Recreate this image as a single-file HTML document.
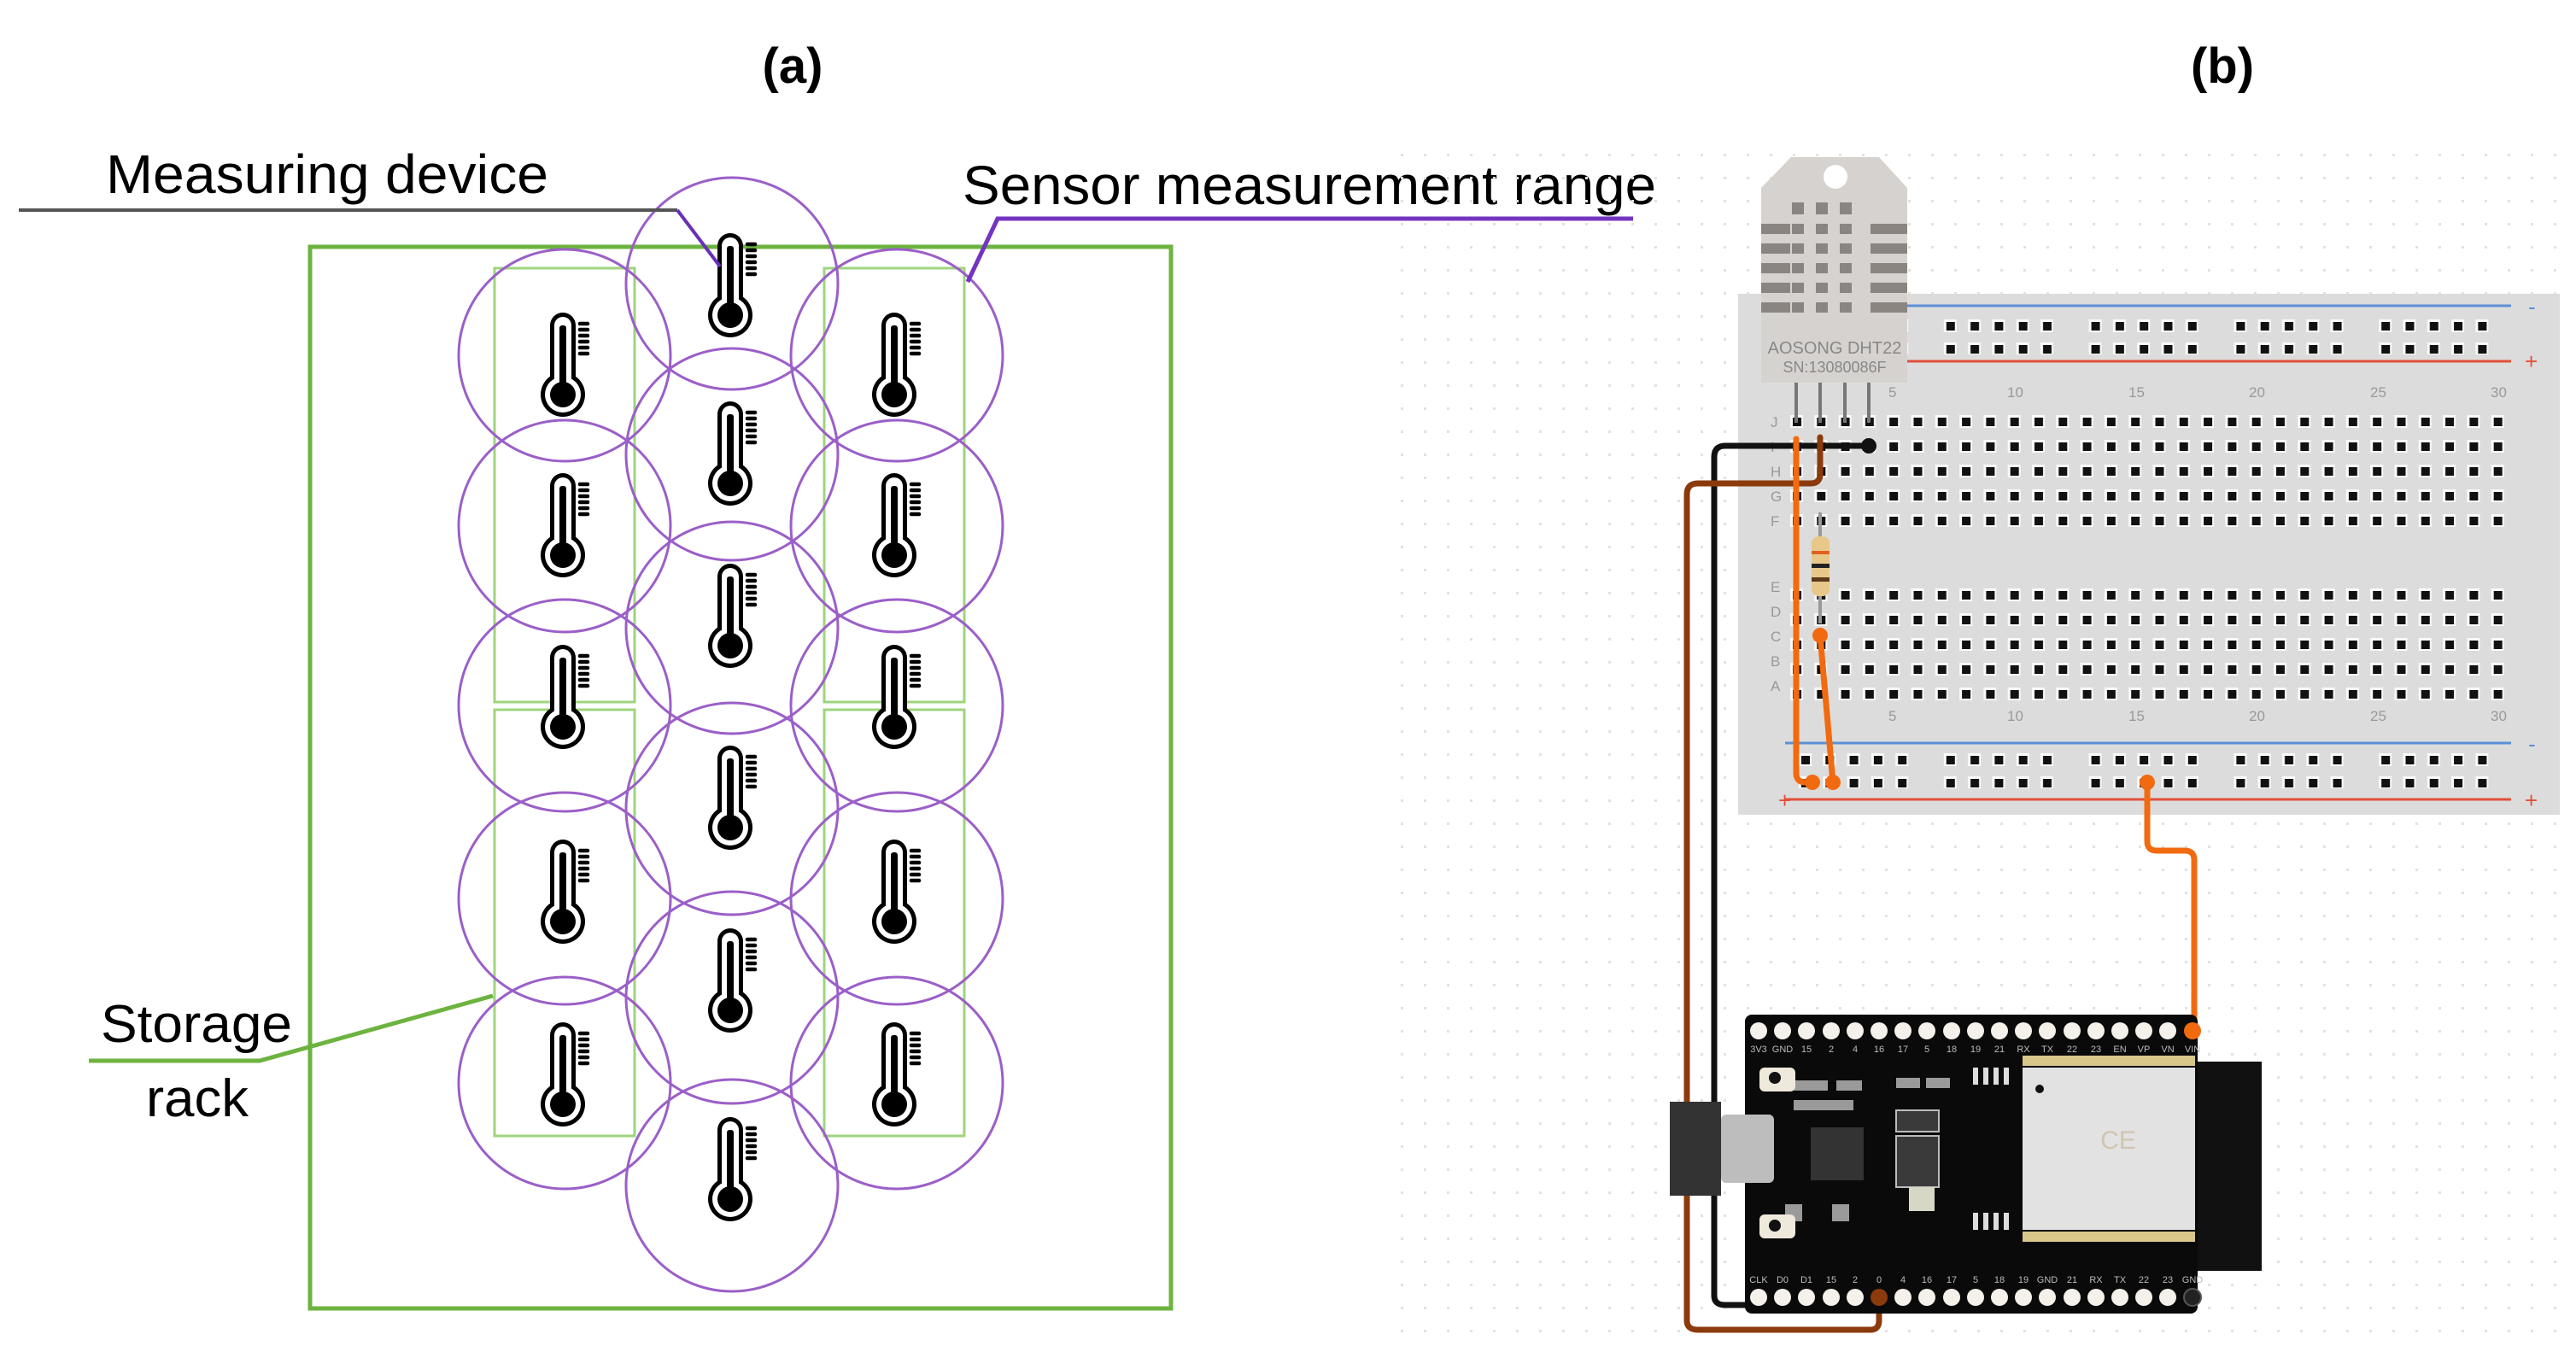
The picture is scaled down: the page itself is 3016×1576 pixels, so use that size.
<!DOCTYPE html>
<html><head><meta charset="utf-8"><style>
html,body{margin:0;padding:0;background:#fff}
svg{display:block}
text{font-family:"Liberation Sans",sans-serif}
</style></head><body>
<svg width="3016" height="1576" viewBox="0 0 3016 1576" xmlns="http://www.w3.org/2000/svg">
<defs>
<g id="th">
 <rect x="-15" y="-53" width="30" height="92" rx="15" fill="#000"/>
 <circle cx="0" cy="43" r="26" fill="#000"/>
 <rect x="-10" y="-48" width="20" height="88" rx="10" fill="#fff"/>
 <circle cx="0" cy="43" r="21" fill="#fff"/>
 <rect x="-4" y="-38" width="8" height="80" rx="3" fill="#000"/>
 <circle cx="0" cy="43" r="15" fill="#000"/>
 <g stroke="#000" stroke-width="4.5" stroke-linecap="round">
  <line x1="20" y1="-40" x2="29" y2="-40"/><line x1="20" y1="-33" x2="29" y2="-33"/>
  <line x1="20" y1="-26" x2="29" y2="-26"/><line x1="20" y1="-19" x2="29" y2="-19"/>
  <line x1="20" y1="-12" x2="29" y2="-12"/><line x1="20" y1="-5" x2="29" y2="-5"/>
 </g>
</g>
<pattern id="dots" patternUnits="userSpaceOnUse" x="1640" y="180" width="27" height="27">
 <rect x="0" y="0" width="3" height="3" fill="#e2e2e2"/>
</pattern>
<pattern id="holes" patternUnits="userSpaceOnUse" x="2096" y="486" width="28.3" height="29">
 <rect x="0" y="0" width="15" height="15" fill="#fafafa"/>
 <rect x="3" y="3" width="10" height="10" fill="#111"/>
</pattern>
<pattern id="rail" patternUnits="userSpaceOnUse" x="2106" y="374" width="169.8" height="27">
 <g fill="#fafafa"><rect x="0" y="0" width="15" height="15"/><rect x="28.3" y="0" width="15" height="15"/><rect x="56.6" y="0" width="15" height="15"/><rect x="84.9" y="0" width="15" height="15"/><rect x="113.2" y="0" width="15" height="15"/></g>
 <g fill="#111"><rect x="3" y="3" width="10" height="10"/><rect x="31.3" y="3" width="10" height="10"/><rect x="59.6" y="3" width="10" height="10"/><rect x="87.9" y="3" width="10" height="10"/><rect x="116.2" y="3" width="10" height="10"/></g>
</pattern>
<pattern id="rail2" patternUnits="userSpaceOnUse" x="2106" y="882" width="169.8" height="27">
 <g fill="#fafafa"><rect x="0" y="0" width="15" height="15"/><rect x="28.3" y="0" width="15" height="15"/><rect x="56.6" y="0" width="15" height="15"/><rect x="84.9" y="0" width="15" height="15"/><rect x="113.2" y="0" width="15" height="15"/></g>
 <g fill="#111"><rect x="3" y="3" width="10" height="10"/><rect x="31.3" y="3" width="10" height="10"/><rect x="59.6" y="3" width="10" height="10"/><rect x="87.9" y="3" width="10" height="10"/><rect x="116.2" y="3" width="10" height="10"/></g>
</pattern>
</defs>

<text x="928" y="97" font-size="58" font-weight="bold" text-anchor="middle">(a)</text>
<text x="2602" y="97" font-size="58" font-weight="bold" text-anchor="middle">(b)</text>

<rect x="363" y="289" width="1008" height="1243" fill="none" stroke="#6db33f" stroke-width="5"/>
<rect x="579" y="314" width="164" height="508" fill="none" stroke="#9fd47e" stroke-width="3"/>
<rect x="579" y="831" width="164" height="499" fill="none" stroke="#9fd47e" stroke-width="3"/>
<rect x="965" y="314" width="164" height="508" fill="none" stroke="#9fd47e" stroke-width="3"/>
<rect x="965" y="831" width="164" height="499" fill="none" stroke="#9fd47e" stroke-width="3"/>

<g fill="none" stroke="#9b5fc8" stroke-width="3">
 <circle cx="661" cy="416" r="124"/><circle cx="661" cy="616" r="124"/><circle cx="661" cy="826" r="124"/><circle cx="661" cy="1052" r="124"/><circle cx="661" cy="1268" r="124"/>
 <circle cx="1050" cy="416" r="124"/><circle cx="1050" cy="616" r="124"/><circle cx="1050" cy="826" r="124"/><circle cx="1050" cy="1052" r="124"/><circle cx="1050" cy="1268" r="124"/>
 <circle cx="857" cy="332" r="124"/><circle cx="857" cy="532" r="124"/><circle cx="857" cy="735" r="124"/><circle cx="857" cy="947" r="124"/><circle cx="857" cy="1168" r="124"/><circle cx="857" cy="1388" r="124"/>
</g>

<use href="#th" x="659" y="419"/><use href="#th" x="659" y="607"/><use href="#th" x="659" y="808"/><use href="#th" x="659" y="1036"/><use href="#th" x="659" y="1250"/>
<use href="#th" x="1047" y="419"/><use href="#th" x="1047" y="607"/><use href="#th" x="1047" y="808"/><use href="#th" x="1047" y="1036"/><use href="#th" x="1047" y="1250"/>
<use href="#th" x="855" y="326"/><use href="#th" x="855" y="523"/><use href="#th" x="855" y="713"/><use href="#th" x="855" y="926"/><use href="#th" x="855" y="1140"/><use href="#th" x="855" y="1361"/>

<text x="124" y="226" font-size="64" textLength="518" lengthAdjust="spacingAndGlyphs">Measuring device</text>
<polyline points="22,246 793,246" fill="none" stroke="#555" stroke-width="4"/>
<polyline points="793,246 843,312" fill="none" stroke="#6a2fb8" stroke-width="4"/>
<text x="1127" y="239" font-size="64" textLength="812" lengthAdjust="spacingAndGlyphs">Sensor measurement range</text>
<polyline points="1912,256 1168,256 1133,330" fill="none" stroke="#7433c0" stroke-width="5"/>
<text x="118" y="1220" font-size="62" textLength="224" lengthAdjust="spacingAndGlyphs">Storage</text>
<text x="171" y="1307" font-size="62" textLength="120" lengthAdjust="spacingAndGlyphs">rack</text>
<polyline points="104,1242 304,1242 577,1166" fill="none" stroke="#6db33f" stroke-width="5"/>

<rect x="1640" y="175" width="1360" height="1400" fill="url(#dots)"/>
<rect x="2035" y="344" width="962" height="610" fill="#dcdcdc"/>
<line x1="2090" y1="358" x2="2940" y2="358" stroke="#5b8fd6" stroke-width="3"/>
<line x1="2090" y1="423" x2="2940" y2="423" stroke="#e0503a" stroke-width="3"/>
<line x1="2090" y1="870" x2="2940" y2="870" stroke="#5b8fd6" stroke-width="3"/>
<line x1="2090" y1="936" x2="2940" y2="936" stroke="#e0503a" stroke-width="3"/>
<text x="2960" y="368" font-size="26" fill="#5b8fd6">-</text>
<text x="2956" y="432" font-size="26" fill="#e0503a">+</text>
<text x="2960" y="880" font-size="26" fill="#5b8fd6">-</text>
<text x="2956" y="946" font-size="26" fill="#e0503a">+</text>
<text x="2082" y="946" font-size="26" fill="#e0503a">+</text>
<rect x="2106" y="374" width="849" height="41" fill="url(#rail)"/>
<rect x="2106" y="882" width="849" height="41" fill="url(#rail2)"/>
<rect x="2096" y="486" width="849" height="145" fill="url(#holes)"/>
<rect x="2096" y="679" width="849" height="145" fill="url(#holes)"/>
<g font-size="17" fill="#999">
 <text x="2073" y="500">J</text><text x="2073" y="529">I</text><text x="2073" y="558">H</text><text x="2073" y="587">G</text><text x="2073" y="616">F</text>
 <text x="2073" y="693">E</text><text x="2073" y="722">D</text><text x="2073" y="751">C</text><text x="2073" y="780">B</text><text x="2073" y="809">A</text>
 <text x="2211" y="465">5</text><text x="2350" y="465">10</text><text x="2492" y="465">15</text><text x="2633" y="465">20</text><text x="2775" y="465">25</text><text x="2916" y="465">30</text>
 <text x="2211" y="844">5</text><text x="2350" y="844">10</text><text x="2492" y="844">15</text><text x="2633" y="844">20</text><text x="2775" y="844">25</text><text x="2916" y="844">30</text>
</g>

<path d="M2097,184 L2200,184 L2233,220 L2233,448 L2062,448 L2062,220 Z" fill="#d6d2cf"/>
<circle cx="2149" cy="207" r="14" fill="#fff"/>
<g fill="#8a8581">
 <rect x="2098" y="237" width="14" height="14"/><rect x="2126" y="237" width="14" height="14"/><rect x="2154" y="237" width="14" height="14"/>
 <rect x="2062" y="262" width="34" height="12"/><rect x="2098" y="262" width="14" height="12"/><rect x="2126" y="262" width="14" height="12"/><rect x="2154" y="262" width="14" height="12"/><rect x="2190" y="262" width="43" height="12"/>
 <rect x="2062" y="285" width="34" height="12"/><rect x="2098" y="285" width="14" height="12"/><rect x="2126" y="285" width="14" height="12"/><rect x="2154" y="285" width="14" height="12"/><rect x="2190" y="285" width="43" height="12"/>
 <rect x="2062" y="308" width="34" height="12"/><rect x="2098" y="308" width="14" height="12"/><rect x="2126" y="308" width="14" height="12"/><rect x="2154" y="308" width="14" height="12"/><rect x="2190" y="308" width="43" height="12"/>
 <rect x="2062" y="331" width="34" height="12"/><rect x="2098" y="331" width="14" height="12"/><rect x="2126" y="331" width="14" height="12"/><rect x="2154" y="331" width="14" height="12"/><rect x="2190" y="331" width="43" height="12"/>
 <rect x="2062" y="354" width="34" height="12"/><rect x="2098" y="354" width="14" height="12"/><rect x="2126" y="354" width="14" height="12"/><rect x="2154" y="354" width="14" height="12"/><rect x="2190" y="354" width="43" height="12"/>
</g>
<text x="2148" y="414" font-size="20" fill="#888" text-anchor="middle">AOSONG DHT22</text>
<text x="2148" y="436" font-size="18" fill="#888" text-anchor="middle">SN:13080086F</text>
<g stroke="#777" stroke-width="4"><line x1="2103" y1="448" x2="2103" y2="495"/><line x1="2131" y1="448" x2="2131" y2="495"/><line x1="2160" y1="448" x2="2160" y2="495"/><line x1="2188" y1="448" x2="2188" y2="495"/></g>

<line x1="2131" y1="600" x2="2131" y2="730" stroke="#999" stroke-width="4"/>
<rect x="2121" y="628" width="21" height="70" rx="8" fill="#e8c88a"/>
<rect x="2121" y="645" width="21" height="4" fill="#e06020"/>
<rect x="2121" y="660" width="21" height="5" fill="#222"/>
<rect x="2121" y="676" width="21" height="5" fill="#5a3a1a"/>

<g fill="none" stroke-linecap="round" stroke-linejoin="round">
 <path d="M2188,522 L2020,522 Q2007,522 2007,535 L2007,1517 Q2007,1528 2020,1528 L2556,1528 Q2567,1528 2567,1517 L2567,1490" stroke="#111" stroke-width="7"/>
 <path d="M2131,512 L2131,555 Q2131,566 2120,566 L1988,566 Q1975,566 1975,579 L1975,1546 Q1975,1557 1988,1557 L2190,1557 Q2200,1557 2200,1546 L2200,1470" stroke="#8b3a0c" stroke-width="7"/>
 <path d="M2103,514 L2103,905 Q2103,916 2114,916 L2122,916" stroke="#f26a10" stroke-width="7"/>
 <path d="M2131,744 L2146,916" stroke="#f26a10" stroke-width="7"/>
 <path d="M2514,916 L2514,985 Q2514,996 2525,996 L2558,996 Q2569,996 2569,1007 L2569,1208" stroke="#f26a10" stroke-width="7"/>
</g>
<circle cx="2188" cy="522" r="9" fill="#111"/>
<circle cx="2122" cy="916" r="9" fill="#f26a10"/><circle cx="2146" cy="916" r="9" fill="#f26a10"/><circle cx="2131" cy="744" r="9" fill="#f26a10"/><circle cx="2514" cy="916" r="9" fill="#f26a10"/>

<rect x="1955" y="1290" width="60" height="110" fill="#333"/>
<rect x="2571" y="1243" width="77" height="245" fill="#111"/>
<rect x="2043" y="1188" width="530" height="350" rx="8" fill="#0a0a0a"/>
<g fill="#f3f1ea">
 <circle cx="2059" cy="1207" r="10"/><circle cx="2087" cy="1207" r="10"/><circle cx="2115" cy="1207" r="10"/><circle cx="2144" cy="1207" r="10"/><circle cx="2172" cy="1207" r="10"/><circle cx="2200" cy="1207" r="10"/><circle cx="2228" cy="1207" r="10"/><circle cx="2256" cy="1207" r="10"/><circle cx="2285" cy="1207" r="10"/><circle cx="2313" cy="1207" r="10"/><circle cx="2341" cy="1207" r="10"/><circle cx="2369" cy="1207" r="10"/><circle cx="2397" cy="1207" r="10"/><circle cx="2426" cy="1207" r="10"/><circle cx="2454" cy="1207" r="10"/><circle cx="2482" cy="1207" r="10"/><circle cx="2510" cy="1207" r="10"/><circle cx="2538" cy="1207" r="10"/>
 <circle cx="2059" cy="1519" r="10"/><circle cx="2087" cy="1519" r="10"/><circle cx="2115" cy="1519" r="10"/><circle cx="2144" cy="1519" r="10"/><circle cx="2172" cy="1519" r="10"/><circle cx="2228" cy="1519" r="10"/><circle cx="2256" cy="1519" r="10"/><circle cx="2285" cy="1519" r="10"/><circle cx="2313" cy="1519" r="10"/><circle cx="2341" cy="1519" r="10"/><circle cx="2369" cy="1519" r="10"/><circle cx="2397" cy="1519" r="10"/><circle cx="2426" cy="1519" r="10"/><circle cx="2454" cy="1519" r="10"/><circle cx="2482" cy="1519" r="10"/><circle cx="2510" cy="1519" r="10"/><circle cx="2538" cy="1519" r="10"/>
</g>
<g font-size="11" fill="#bbb" text-anchor="middle">
 <text x="2059" y="1232">3V3</text><text x="2087" y="1232">GND</text><text x="2115" y="1232">15</text><text x="2144" y="1232">2</text><text x="2172" y="1232">4</text><text x="2200" y="1232">16</text><text x="2228" y="1232">17</text><text x="2256" y="1232">5</text><text x="2285" y="1232">18</text><text x="2313" y="1232">19</text><text x="2341" y="1232">21</text><text x="2369" y="1232">RX</text><text x="2397" y="1232">TX</text><text x="2426" y="1232">22</text><text x="2454" y="1232">23</text><text x="2482" y="1232">EN</text><text x="2510" y="1232">VP</text><text x="2538" y="1232">VN</text><text x="2567" y="1232">VIN</text>
 <text x="2059" y="1502">CLK</text><text x="2087" y="1502">D0</text><text x="2115" y="1502">D1</text><text x="2144" y="1502">15</text><text x="2172" y="1502">2</text><text x="2200" y="1502">0</text><text x="2228" y="1502">4</text><text x="2256" y="1502">16</text><text x="2285" y="1502">17</text><text x="2313" y="1502">5</text><text x="2341" y="1502">18</text><text x="2369" y="1502">19</text><text x="2397" y="1502">GND</text><text x="2426" y="1502">21</text><text x="2454" y="1502">RX</text><text x="2482" y="1502">TX</text><text x="2510" y="1502">22</text><text x="2538" y="1502">23</text><text x="2567" y="1502">GND</text>
</g>
<circle cx="2200" cy="1519" r="10" fill="#8b3a0c"/>
<circle cx="2567" cy="1519" r="10" fill="#222" stroke="#555" stroke-width="2"/>
<circle cx="2567" cy="1207" r="10" fill="#f26a10"/>
<rect x="2368" y="1250" width="202" height="190" fill="#e2e2e2"/>
<g fill="#d8c78a"><rect x="2368" y="1236" width="202" height="12"/><rect x="2368" y="1442" width="202" height="12"/></g>
<circle cx="2388" cy="1275" r="5" fill="#111"/>
<text x="2480" y="1345" font-size="30" fill="#cfc6ae" text-anchor="middle">CE</text>
<rect x="2015" y="1305" width="62" height="80" rx="6" fill="#bdbdbd"/>
<rect x="2120" y="1320" width="62" height="62" fill="#333"/>
<rect x="2220" y="1300" width="50" height="25" fill="#3a3a3a" stroke="#bbb" stroke-width="2"/>
<rect x="2220" y="1330" width="50" height="60" fill="#3a3a3a" stroke="#bbb" stroke-width="2"/>
<rect x="2235" y="1390" width="30" height="28" fill="#d7d7c5"/>
<g fill="#9a9a9a"><rect x="2100" y="1265" width="40" height="12"/><rect x="2150" y="1265" width="30" height="12"/><rect x="2100" y="1288" width="70" height="12"/><rect x="2220" y="1262" width="28" height="12"/><rect x="2255" y="1262" width="28" height="12"/><rect x="2090" y="1410" width="20" height="20"/><rect x="2145" y="1410" width="20" height="20"/></g>
<rect x="2060" y="1250" width="42" height="28" rx="6" fill="#efe9dc"/><circle cx="2078" cy="1262" r="7" fill="#111"/>
<rect x="2060" y="1422" width="42" height="28" rx="6" fill="#efe9dc"/><circle cx="2078" cy="1435" r="7" fill="#111"/>
<g fill="#ddd"><rect x="2310" y="1250" width="6" height="20"/><rect x="2322" y="1250" width="6" height="20"/><rect x="2334" y="1250" width="6" height="20"/><rect x="2346" y="1250" width="6" height="20"/>
<rect x="2310" y="1420" width="6" height="20"/><rect x="2322" y="1420" width="6" height="20"/><rect x="2334" y="1420" width="6" height="20"/><rect x="2346" y="1420" width="6" height="20"/></g>
</svg>
</body></html>
